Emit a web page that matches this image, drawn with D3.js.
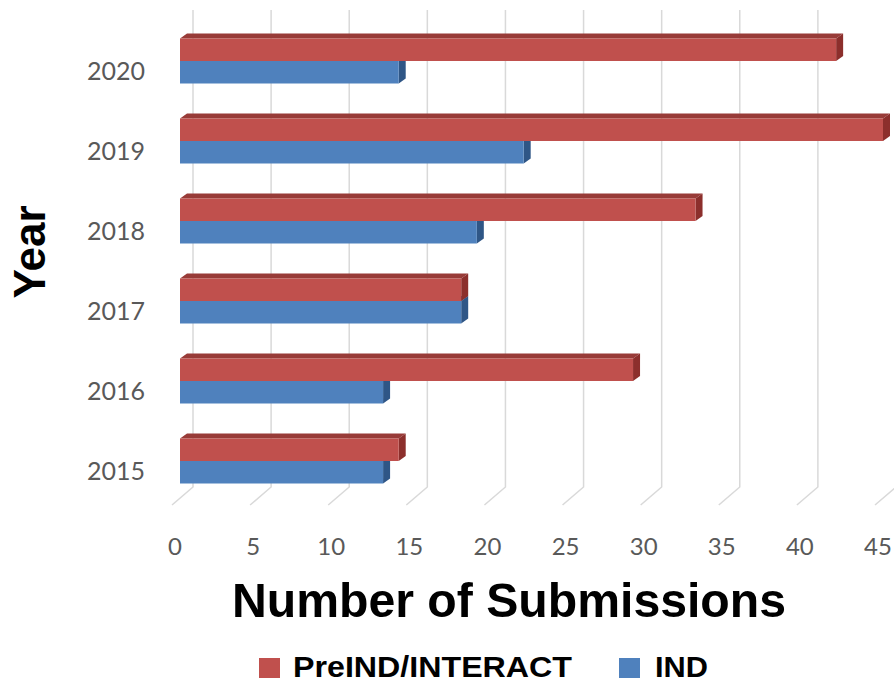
<!DOCTYPE html>
<html><head><meta charset="utf-8">
<script src="https://cdn.jsdelivr.net/npm/d3@7"></script>
<style>body{margin:0;background:#fff}svg{display:block}</style>
</head><body>
<svg id="c" width="894" height="683"></svg>
<script>
const years = ["2020","2019","2018","2017","2016","2015"];
const preInteract = [42, 45, 33, 18, 29, 14];
const ind = [14, 22, 19, 18, 13, 13];
const xTicks = [0,5,10,15,20,25,30,35,40,45];
const seriesNames = ["PreIND/INTERACT","IND"];

const svg = d3.select("#c");
const x = d3.scaleLinear().domain([0,45]).range([180,883]);
const y = d3.scaleBand().domain(years).range([21,501]).padding(0);
const sub = d3.scaleBand().domain(seriesNames).range([0,45]);

const colors = {
  "PreIND/INTERACT": {front:"#C0504D", top:"#983B38", side:"#8C2F2C"},
  "IND": {front:"#4F81BD", top:"#3A6598", side:"#2F5686"}
};
const dx = 7, dy = -5;

// gridlines (back wall + floor)
const grid = svg.append("g").attr("stroke","#d9d9d9").attr("stroke-width",1.5).attr("fill","none");
xTicks.forEach(v => {
  const gx = x(v) + 13;
  grid.append("path").attr("d", `M${gx},10 L${gx},487 L${x(v)-8},505`);
});

// x tick labels
svg.append("g").selectAll("text").data(xTicks).join("text")
  .attr("x", d => x(d) - 5).attr("y", 545)
  .attr("text-anchor","middle").attr("dominant-baseline","central")
  .attr("font-family","Lato, 'Open Sans', sans-serif").attr("font-size",24)
  .attr("fill","#595959").text(d => d);

// y tick labels
svg.append("g").selectAll("text").data(years).join("text")
  .attr("x", 145).attr("y", d => y(d) + y.bandwidth()/2 + 9)
  .attr("text-anchor","end").attr("dominant-baseline","central")
  .attr("font-family","Lato, 'Open Sans', sans-serif").attr("font-size",25)
  .attr("fill","#595959").text(d => d);

// bars: draw IND first then PreIND so red covers blue top face
const rows = years.map((yr,i) => ({year:yr, vals:{"PreIND/INTERACT":preInteract[i], "IND":ind[i]}}));
const off = (y.bandwidth() - 45) / 2;
["IND","PreIND/INTERACT"].forEach(s => {
  const g = svg.append("g");
  rows.forEach(r => {
    const x0 = x(0), x1 = x(r.vals[s]);
    const y0 = y(r.year) + off + sub(s), h = sub.bandwidth();
    const c = colors[s];
    g.append("path").attr("fill", c.top)
      .attr("d", `M${x0},${y0} L${x0+dx},${y0+dy} L${x1+dx},${y0+dy} L${x1},${y0} Z`);
    g.append("path").attr("fill", c.side)
      .attr("d", `M${x1},${y0} L${x1+dx},${y0+dy} L${x1+dx},${y0+h+dy} L${x1},${y0+h} Z`);
    g.append("rect").attr("x", x0).attr("y", y0).attr("width", x1-x0).attr("height", h).attr("fill", c.front);
  });
});

// axis titles
svg.append("text").attr("transform","translate(45,252) rotate(-90)")
  .attr("text-anchor","middle")
  .attr("font-family","'Liberation Sans', Arial, sans-serif").attr("font-weight","bold")
  .attr("font-size",44).attr("fill","#000").text("Year");

svg.append("text").attr("x",232).attr("y",617)
  .attr("textLength",554).attr("lengthAdjust","spacingAndGlyphs")
  .attr("font-family","'Liberation Sans', Arial, sans-serif").attr("font-weight","bold")
  .attr("font-size",48).attr("fill","#000").text("Number of Submissions");

// legend
const legend = [
  {name:"PreIND/INTERACT", color:"#C0504D", sx:259, tx:293, len:279},
  {name:"IND", color:"#4F81BD", sx:619, tx:655, len:53}
];
const lg = svg.append("g");
legend.forEach(l => {
  lg.append("rect").attr("x",l.sx).attr("y",658).attr("width",21).attr("height",20).attr("fill",l.color);
  lg.append("text").attr("x",l.tx).attr("y",677)
    .attr("textLength",l.len).attr("lengthAdjust","spacingAndGlyphs")
    .attr("font-family","'Liberation Sans', Arial, sans-serif").attr("font-weight","bold")
    .attr("font-size",29).attr("fill","#000").text(l.name);
});
</script>
</body></html>
